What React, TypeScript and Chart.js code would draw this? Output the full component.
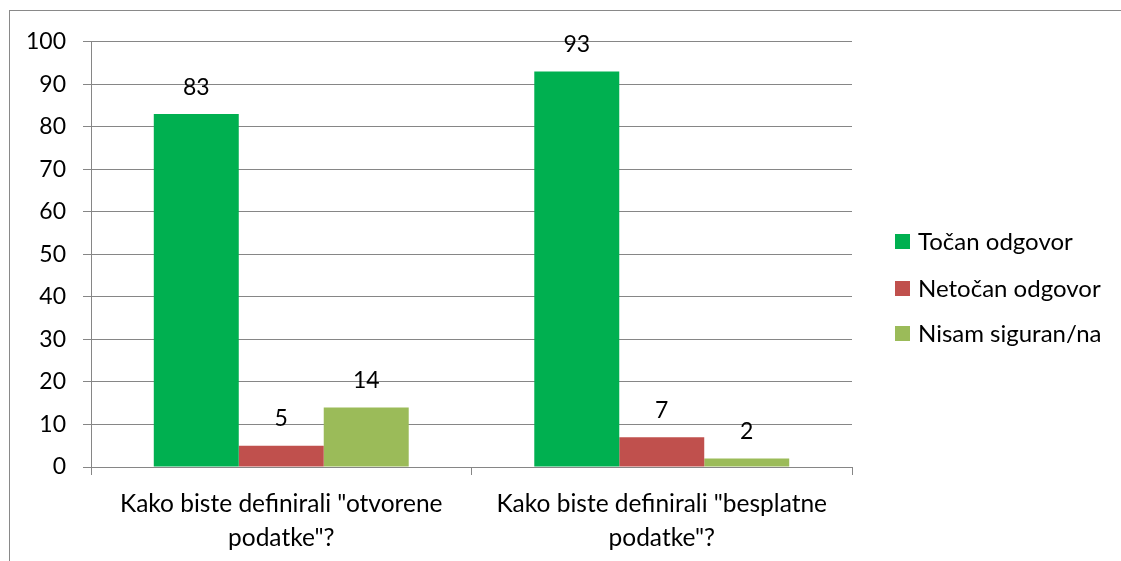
import React, { useEffect, useRef } from "react";
import { Chart, registerables } from "chart.js";

Chart.register(...registerables);

const categories: string[][] = [
  ["Kako biste definirali \"otvorene", "podatke\"?"],
  ["Kako biste definirali \"besplatne", "podatke\"?"],
];
const seriesNames = ["Točan odgovor", "Netočan odgovor", "Nisam siguran/na"];
const tocan = [83, 93];
const netocan = [5, 7];
const nisam = [14, 2];
const seriesColors = ["#00B050", "#C0504D", "#9BBB59"];

const FONT = "Lato, 'Open Sans', sans-serif";
const FS = 23;
const FS_TEXT = 24.5;

const valueLabels = {
  id: "valueLabels",
  afterDatasetsDraw(chart: any) {
    const ctx = chart.ctx;
    ctx.save();
    ctx.font = `${FS}px ${FONT}`;
    ctx.fillStyle = "#000";
    ctx.textAlign = "center";
    ctx.textBaseline = "middle";
    chart.data.datasets.forEach((ds: any, i: number) => {
      const meta = chart.getDatasetMeta(i);
      meta.data.forEach((el: any, j: number) => {
        ctx.fillText(String(ds.data[j]), el.x, el.y - 27);
      });
    });
    ctx.restore();
  },
};

const sideLegend = {
  id: "sideLegend",
  afterDraw(chart: any) {
    const ctx = chart.ctx;
    ctx.save();
    ctx.font = `24px ${FONT}`;
    ctx.textBaseline = "middle";
    ctx.textAlign = "left";
    const rows = [230, 277, 322];
    chart.data.datasets.forEach((ds: any, i: number) => {
      const y = rows[i];
      ctx.fillStyle = ds.backgroundColor;
      ctx.fillRect(885, y - 7, 15, 15);
      ctx.fillStyle = "#000";
      ctx.fillText(ds.label, 908, y + 1);
    });
    ctx.restore();
  },
};

export default function App() {
  const ref = useRef<HTMLCanvasElement>(null);
  useEffect(() => {
    if (!ref.current) return;
    const datasets = [tocan, netocan, nisam].map((d, i) => ({
      label: seriesNames[i],
      data: d,
      backgroundColor: seriesColors[i],
      borderWidth: 0,
      barPercentage: 1,
      categoryPercentage: 0.67,
    }));
    const chart = new Chart(ref.current, {
      type: "bar",
      data: { labels: categories, datasets },
      plugins: [valueLabels, sideLegend],
      options: {
        animation: false,
        responsive: false,
        maintainAspectRatio: false,
        layout: { padding: { top: 30, right: 269, bottom: 0, left: 0 } },
        plugins: { legend: { display: false }, tooltip: { enabled: false } },
        scales: {
          y: {
            min: 0,
            max: 100,
            ticks: { stepSize: 10, padding: 17, color: "#000", font: { family: FONT, size: FS } },
            grid: { color: "#868686", tickLength: 8, lineWidth: 1 },
            border: { color: "#868686" },
            afterFit: (s: any) => { s.width = 81; },
          },
          x: {
            ticks: { color: "#000", padding: 12, font: { family: FONT, size: FS_TEXT, lineHeight: 1.38 } as any, maxRotation: 0, autoSkip: false },
            grid: { offset: true, drawOnChartArea: false, color: "#868686", tickLength: 8 },
            border: { color: "#868686" },
            afterFit: (s: any) => { s.height = 94; },
          },
        },
      } as any,
    });
    return () => chart.destroy();
  }, []);
  return (
    <div style={{ position: "absolute", left: 9, top: 10, width: 1112, height: 551, borderLeft: "1px solid #898989", borderTop: "1px solid #898989", overflow: "hidden", background: "#fff" }}>
      <canvas ref={ref} width={1111} height={550} style={{ display: "block", width: 1111, height: 550 }} />
    </div>
  );
}
